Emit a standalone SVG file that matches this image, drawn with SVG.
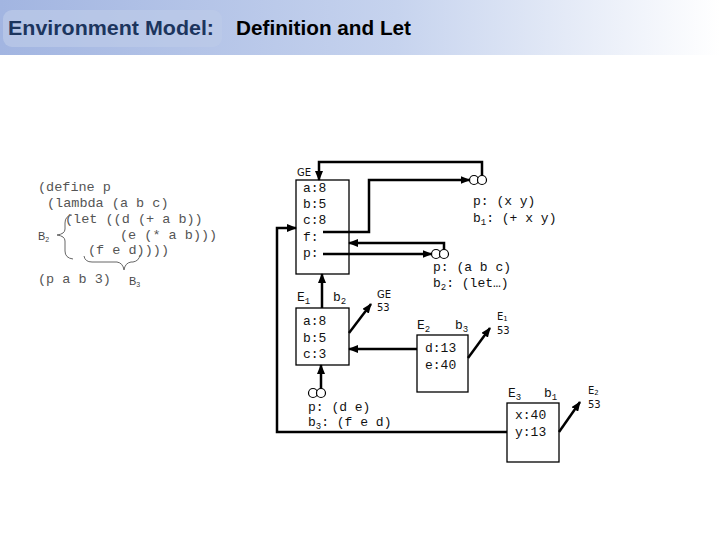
<svg xmlns="http://www.w3.org/2000/svg" width="720" height="540" viewBox="0 0 720 540">
<defs>
<linearGradient id="bar" x1="0" x2="1" y1="0" y2="0">
<stop offset="0" stop-color="#a2b5e1"/>
<stop offset="0.55" stop-color="#c6d3ee"/>
<stop offset="1" stop-color="#ffffff"/>
</linearGradient>
<marker id="ah" markerWidth="10" markerHeight="8" refX="9" refY="4" orient="auto" markerUnits="userSpaceOnUse"><path d="M0,0 L10,4 L0,8 z" fill="#000"/></marker>
</defs>
<style>
.mono{font-family:"Liberation Mono","Courier New",monospace;font-size:13px;fill:#111}
.code{font-family:"Liberation Mono","Courier New",monospace;font-size:13.5px;fill:#555}
.sans{font-family:"DejaVu Sans","Liberation Sans",sans-serif;font-size:10px;fill:#111}
.lbl{font-family:"Liberation Sans",sans-serif;font-size:11px;fill:#444}
.box{fill:#fff;stroke:#000;stroke-width:1.3}
.conn{fill:none;stroke:#000;stroke-width:2.5;marker-end:url(#ah)}
.circ{fill:#fff;stroke:#000;stroke-width:1.2}
.brace{fill:none;stroke:#666;stroke-width:1}
.title{font-family:"Liberation Sans",Arial,sans-serif;font-weight:bold;font-size:21px}
</style>
<rect x="0" y="0" width="720" height="55" fill="url(#bar)"/>
<rect x="3" y="10" width="219" height="37" rx="9" fill="#bccbe8" opacity="0.7"/>
<text class="title" x="8" y="35" fill="#1c355e" textLength="206" lengthAdjust="spacingAndGlyphs">Environment Model:</text>
<text class="title" x="236" y="35" fill="#000" textLength="175" lengthAdjust="spacingAndGlyphs">Definition and Let</text>

<g id="code">
<text class="code" x="38" y="191" xml:space="preserve">(define p</text>
<text class="code" x="47" y="207" xml:space="preserve">(lambda (a b c)</text>
<text class="code" x="65" y="223" xml:space="preserve">(let ((d (+ a b))</text>
<text class="code" x="120" y="239" xml:space="preserve">(e (* a b)))</text>
<text class="code" x="88" y="254" xml:space="preserve">(f e d))))</text>
<text class="code" x="38" y="283" xml:space="preserve">(p a b 3)</text>
<text class="lbl" x="38" y="240">B<tspan font-size="7" dy="2">2</tspan></text>
<text class="lbl" x="129" y="285">B<tspan font-size="7" dy="2">3</tspan></text>
<path class="brace" d="M72,215 Q65,216 65,223 L65,229 Q65,234 57,235 Q65,236 65,241 L65,251 Q65,258 73,259"/>
<path class="brace" d="M84,256 Q85,262 92,262 L117,262 Q123,263 124,270 Q125,263 131,262 L133,262 Q139,261 140,255"/>
</g>

<g id="GE">
<text class="sans" x="297" y="176">GE</text>
<rect class="box" x="296" y="180" width="53" height="94"/>
<text class="mono" x="303" y="192">a:8</text>
<text class="mono" x="303" y="208">b:5</text>
<text class="mono" x="303" y="224">c:8</text>
<text class="mono" x="303" y="241">f:</text>
<text class="mono" x="303" y="257">p:</text>
</g>

<g id="proc1">
<circle class="circ" cx="474" cy="180" r="4.5"/>
<circle class="circ" cx="482" cy="180" r="4.5"/>
<text class="mono" x="473" y="205" xml:space="preserve">p: (x y)</text>
<text class="mono" x="473" y="222" xml:space="preserve">b<tspan font-size="9" dy="3">1</tspan><tspan dy="-3">: (+ x y)</tspan></text>
</g>

<g id="proc2">
<circle class="circ" cx="436" cy="254" r="4.5"/>
<circle class="circ" cx="444" cy="254" r="4.5"/>
<text class="mono" x="433" y="271" xml:space="preserve">p: (a b c)</text>
<text class="mono" x="433" y="287" xml:space="preserve">b<tspan font-size="9" dy="3">2</tspan><tspan dy="-3">: (let…)</tspan></text>
</g>

<g id="E1">
<text class="mono" x="297" y="301">E<tspan font-size="9" dy="3">1</tspan></text>
<text class="mono" x="333" y="301">b<tspan font-size="9" dy="3">2</tspan></text>
<text class="sans" x="377" y="298">GE</text>
<text class="sans" x="377" y="311">53</text>
<rect class="box" x="296" y="308" width="53" height="57"/>
<text class="mono" x="303" y="325">a:8</text>
<text class="mono" x="303" y="342">b:5</text>
<text class="mono" x="303" y="358">c:3</text>
</g>

<g id="proc3">
<circle class="circ" cx="313" cy="393" r="4.5"/>
<circle class="circ" cx="321" cy="393" r="4.5"/>
<text class="mono" x="308" y="411" xml:space="preserve">p: (d e)</text>
<text class="mono" x="308" y="426" xml:space="preserve">b<tspan font-size="9" dy="3">3</tspan><tspan dy="-3">: (f e d)</tspan></text>
</g>

<g id="E2">
<text class="mono" x="417" y="329">E<tspan font-size="9" dy="3">2</tspan></text>
<text class="mono" x="455" y="329">b<tspan font-size="9" dy="3">3</tspan></text>
<text class="sans" x="497" y="320">E<tspan font-size="7" dy="1">1</tspan></text>
<text class="sans" x="497" y="334">53</text>
<rect class="box" x="417" y="335" width="51" height="57"/>
<text class="mono" x="425" y="352">d:13</text>
<text class="mono" x="425" y="369">e:40</text>
</g>

<g id="E3">
<text class="mono" x="508" y="397">E<tspan font-size="9" dy="3">3</tspan></text>
<text class="mono" x="544" y="397">b<tspan font-size="9" dy="3">1</tspan></text>
<text class="sans" x="588" y="394">E<tspan font-size="7" dy="1">2</tspan></text>
<text class="sans" x="588" y="408">53</text>
<rect class="box" x="507" y="403" width="52" height="59"/>
<text class="mono" x="515" y="419">x:40</text>
<text class="mono" x="515" y="436">y:13</text>
</g>

<g id="connectors">
<path class="conn" d="M482,175.5 V162 H319 V180"/>
<path class="conn" d="M323,232 H369 V180 H469.5"/>
<path class="conn" d="M507,432 H277 V228 H296"/>
<path class="conn" d="M444,249.5 V243 H349"/>
<path class="conn" d="M323,254 H431.5"/>
<path class="conn" d="M322,308 V274"/>
<path class="conn" d="M349,333 L371,304"/>
<path class="conn" d="M417,349 H349"/>
<path class="conn" d="M321,388.5 V365"/>
<path class="conn" d="M468,358 L490,328"/>
<path class="conn" d="M559,432 L580,402"/>
</g>
</svg>
